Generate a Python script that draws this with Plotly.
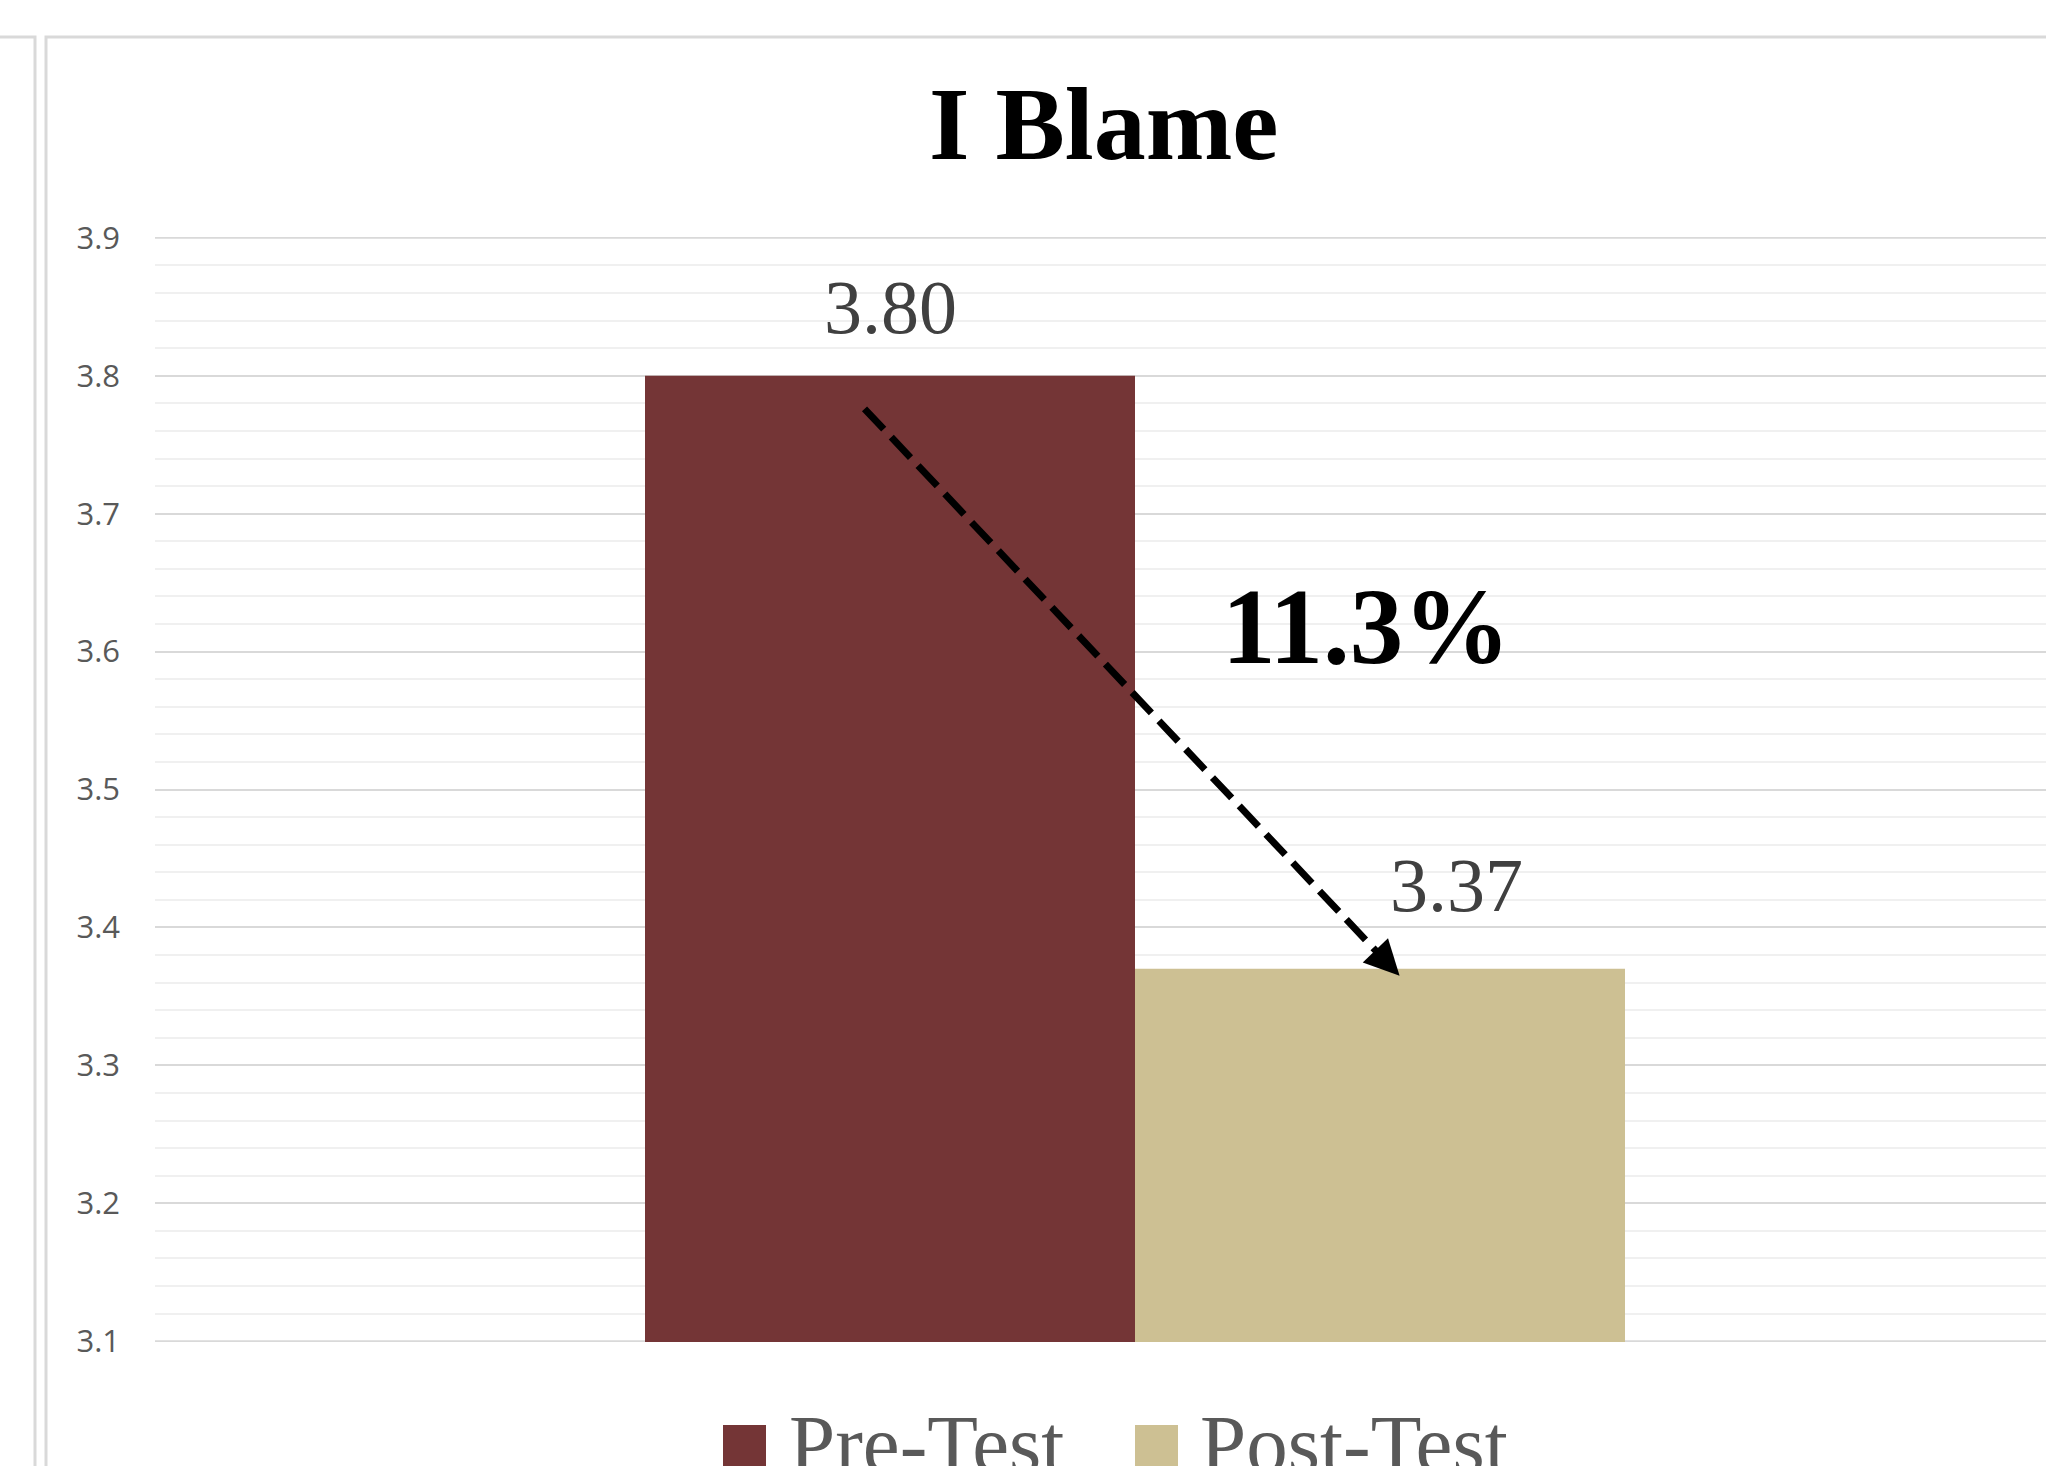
import plotly.graph_objects as go

# ---- data ----
categories = ["Pre-Test", "Post-Test"]
values = [3.80, 3.37]
y_ticks = [3.1, 3.2, 3.3, 3.4, 3.5, 3.6, 3.7, 3.8, 3.9]
title_text = "I Blame"

# ---- style ----
bar_colors = ["#743536", "#CDC093"]
W, H = 2046, 1466
L, R, T, B = 155, 0, 237, 124
PW, PH = W - L - R, H - T - B
bargap = 0.5
unit_px = 1960.0  # pixel width of one category slot
x_range = [-0.5, -0.5 + PW / unit_px]
serif = "Liberation Serif, Times New Roman, serif"
eps = 0.0006


def px2paper(px, py):
    return (px - L) / PW, (H - B - py) / PH


fig = go.Figure()
for name, v, c in zip(categories, values, bar_colors):
    fig.add_trace(go.Bar(x=[0], y=[v], name=name, marker=dict(color=c, line=dict(width=0)),
                         showlegend=False))

# bar centres computed from grouping geometry
n = len(values)
group_w = 1 - bargap
bw = group_w / n
centers = [-group_w / 2 + bw * (i + 0.5) for i in range(n)]

annotations = []
# value labels
label_shift = [(0, 69), (76, 84)]
for xc, v, (dx, dy) in zip(centers, values, label_shift):
    annotations.append(dict(x=xc, y=v, xref="x", yref="y", text=f"{v:.2f}", showarrow=False,
                            xshift=dx, yshift=dy, yanchor="middle",
                            font=dict(family=serif, size=76, color="#404040")))

# title
tx, ty = px2paper(1104, 124)
annotations.append(dict(x=tx, y=ty, xref="paper", yref="paper", text=f"<b>{title_text}</b>",
                        showarrow=False, yanchor="middle", xanchor="center",
                        font=dict(family=serif, size=104, color="#000000")))

# percentage change
pct = (values[0] - values[1]) / values[0] * 100
px_, py_ = px2paper(1366, 627)
annotations.append(dict(x=px_, y=py_, xref="paper", yref="paper", text=f"<b>{pct:.1f}%</b>",
                        showarrow=False, yanchor="middle", xanchor="center",
                        font=dict(family=serif, size=107, color="#000000")))

# arrow head
arrow_start = (-0.138, 3.776)
arrow_end = (0.135, 3.365)
annotations.append(dict(x=arrow_end[0], y=arrow_end[1], xref="x", yref="y", text="",
                        showarrow=True, arrowhead=2, arrowsize=1.0, arrowwidth=7,
                        arrowcolor="#000000", ax=-24, ay=-25, standoff=0))

shapes = []
# edge gridlines (top and bottom of the value axis)
for yv in (y_ticks[0], y_ticks[-1]):
    shapes.append(dict(type="line", xref="paper", yref="y", x0=0, x1=1, y0=yv, y1=yv,
                       line=dict(color="#d9d9d9", width=2), layer="below"))

# manual legend
legend_items = [(723, 787), (1135, 1198)]
for (sq_x, tx_x), name, c in zip(legend_items, categories, bar_colors):
    x0, y0 = px2paper(sq_x, 1425)
    x1, y1 = px2paper(sq_x + 43, 1468)
    shapes.append(dict(type="rect", xref="paper", yref="paper", x0=x0, x1=x1, y0=y1, y1=y0,
                       fillcolor=c, line=dict(width=0), layer="above"))
    lx, ly = px2paper(tx_x, 1444)
    annotations.append(dict(x=lx, y=ly, xref="paper", yref="paper", text=name, showarrow=False,
                            xanchor="left", yanchor="middle",
                            font=dict(family=serif, size=83, color="#595959")))

# dashed arrow shaft (ends at arrowhead base)
shapes.append(dict(type="line", xref="x", yref="y",
                   x0=arrow_start[0], y0=arrow_start[1],
                   x1=arrow_end[0] - 20 / unit_px, y1=arrow_end[1] + 21 / 1381.0,
                   line=dict(color="#000000", width=7, dash="28px,11px"), layer="above"))

# chart borders
bx0, by0 = px2paper(46, 37)
bx1, by1 = px2paper(2060, 1480)
shapes.append(dict(type="rect", xref="paper", yref="paper", x0=bx0, x1=bx1, y0=by1, y1=by0,
                   line=dict(color="#d9d9d9", width=3), fillcolor="rgba(0,0,0,0)", layer="above"))
lx0, ly0 = px2paper(-10, 37)
lx1, _ = px2paper(35, 37)
_, ly1 = px2paper(35, 1480)
shapes.append(dict(type="path", xref="paper", yref="paper",
                   path=f"M {lx0},{ly0} L {lx1},{ly0} L {lx1},{ly1}",
                   line=dict(color="#d9d9d9", width=3), layer="above"))

fig.update_layout(
    width=W, height=H,
    margin=dict(l=L, r=R, t=T, b=B, autoexpand=False),
    paper_bgcolor="#ffffff", plot_bgcolor="#ffffff",
    barmode="group", bargap=bargap, bargroupgap=0,
    showlegend=False,
    annotations=annotations, shapes=shapes,
    xaxis=dict(range=x_range, showticklabels=False, showgrid=False, zeroline=False,
               showline=False, fixedrange=True),
    yaxis=dict(range=[3.1 - eps, 3.9 + eps], tickvals=y_ticks, ticktext=[f"{t:.1f}" for t in y_ticks],
               showgrid=True, gridcolor="#d9d9d9", gridwidth=2, zeroline=False,
               showline=False, ticks="", ticklabelstandoff=34,
               tickfont=dict(family="Open Sans, sans-serif", size=31, color="#595959"),
               minor=dict(dtick=0.02, tick0=3.1, showgrid=True, gridcolor="#f0f0f0", gridwidth=2)),
)

fig.write_html("out.html", config={"displayModeBar": False},
               post_script="document.body.style.margin='0';document.body.style.overflow='hidden';")
